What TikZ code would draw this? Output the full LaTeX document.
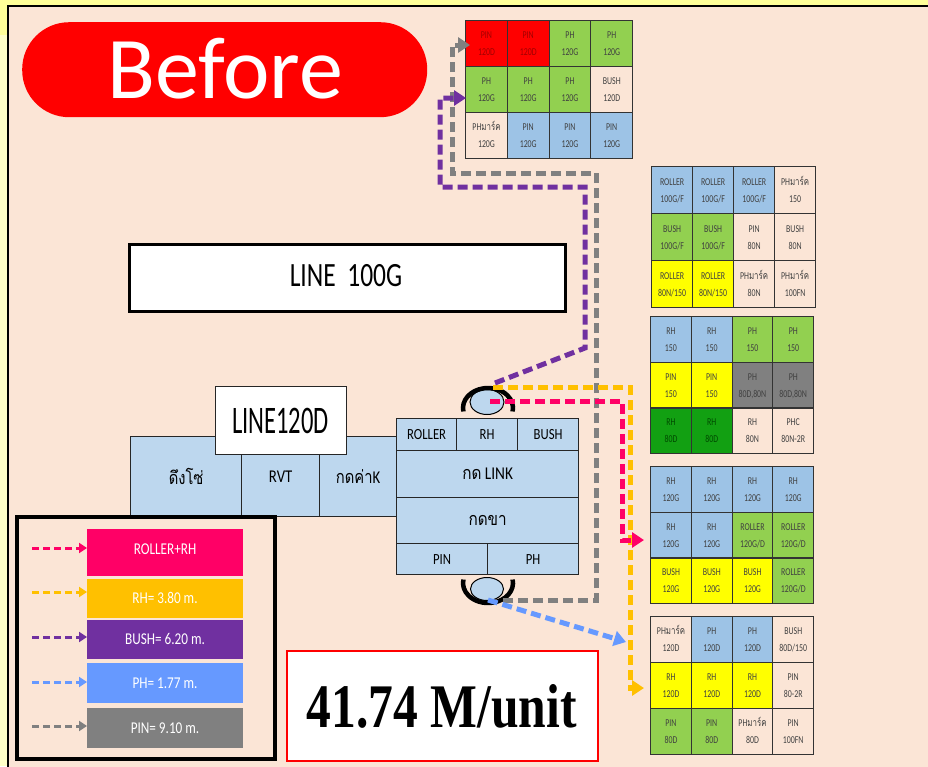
\documentclass[tikz,border=0pt]{standalone}
\usepackage{fontspec}
\usepackage{graphicx}
\setmainfont{Carlito}
\newfontfamily\thaifont[Script=Thai]{Loma}
\newfontfamily\timesb{Liberation Serif}
\usetikzlibrary{arrows.meta,shapes.geometric}
\definecolor{peach}{HTML}{FBE5D6}
\definecolor{bgyel}{HTML}{FFFF99}
\definecolor{bgyelb}{HTML}{FFFFC8}
\definecolor{cblue}{HTML}{9DC3E6}
\definecolor{cgreen}{HTML}{92D050}
\definecolor{cdgreen}{HTML}{12A012}
\definecolor{cgray}{HTML}{808080}
\definecolor{cyel}{HTML}{FFFF00}
\definecolor{cred}{HTML}{FF0000}
\definecolor{lblue}{HTML}{BDD7EE}
\definecolor{lpink}{HTML}{FF0066}
\definecolor{lorange}{HTML}{FFC000}
\definecolor{lpurple}{HTML}{7030A0}
\definecolor{larrblue}{HTML}{6699FF}
\definecolor{tdark}{HTML}{404040}
\definecolor{tred}{HTML}{A00000}
\definecolor{tdgreen}{HTML}{004A00}
\newcommand{\sx}[2]{\scalebox{#1}[1]{#2}}
\newcommand{\thx}[1]{{\thaifont #1}}
\newcommand{\gx}{0}\newcommand{\gy}{0}\newcommand{\gw}{40}\newcommand{\gh}{46}
\newcommand{\gcell}[7]{%
  \node[cellbox, fill=#4, minimum width=\gw pt, minimum height=\gh pt] (#1) at ({\gx+#2*\gw},{\gy+#3*\gh}) {};
  \node[celltext, text=#5] at (#1.center) {\sx{0.75}{\begin{tabular}{@{}c@{}}#6\\#7\end{tabular}}};}
\begin{document}
\begin{tikzpicture}[x=1pt,y=-1pt,
  cellbox/.style={draw=black!80, line width=1.2, inner sep=0, anchor=north west},
  celltext/.style={inner sep=0, font=\fontsize{10.5}{17}\selectfont},
  blk/.style={draw=black!85, line width=1.3, fill=lblue, inner sep=0, anchor=north west, font=\fontsize{15.5}{16}\selectfont},
  conn/.style={line width=5pt, dash pattern=on 10pt off 5pt, -{Triangle[length=12pt, width=15pt]}},
  leg/.style={line width=3pt, dash pattern=on 7pt off 4pt, -{Triangle[length=8pt, width=10pt]}},
  bar/.style={inner sep=0, anchor=north west, minimum width=156},
  bartext/.style={inner sep=0, text=white, font=\fontsize{16.5}{16.5}\selectfont}
]
\useasboundingbox (0,0) rectangle (928,766);
\fill[bgyel] (0,0) rectangle (928,766);
\fill[bgyelb] (0,35) rectangle (8,766);
\filldraw[fill=peach, draw=black, line width=2.5] (8,6) rectangle (960,800);

% Before pill
\node[fill=cred, rounded corners=47, minimum width=405, minimum height=95, anchor=north west, inner sep=0] (before) at (22,22) {};
\node[text=white, font=\fontsize{88}{88}\selectfont, inner sep=0] (beforetxt) at (225,69) {Before};

% Grid 1
\renewcommand{\gx}{465}\renewcommand{\gy}{20}\renewcommand{\gw}{41.75}\renewcommand{\gh}{46}
\gcell{ga1}{0}{0}{cred}{tred}{PIN}{120D}
\gcell{ga2}{1}{0}{cred}{tred}{PIN}{120D}
\gcell{ga3}{2}{0}{cgreen}{tdark}{PH}{120G}
\gcell{ga4}{3}{0}{cgreen}{tdark}{PH}{120G}
\gcell{ga5}{0}{1}{cgreen}{tdark}{PH}{120G}
\gcell{ga6}{1}{1}{cgreen}{tdark}{PH}{120G}
\gcell{ga7}{2}{1}{cgreen}{tdark}{PH}{120G}
\gcell{ga8}{3}{1}{peach}{tdark}{BUSH}{120D}
\gcell{ga9}{0}{2}{peach}{tdark}{PH\thx{มาร์ค}}{120G}
\gcell{ga10}{1}{2}{cblue}{tdark}{PIN}{120G}
\gcell{ga11}{2}{2}{cblue}{tdark}{PIN}{120G}
\gcell{ga12}{3}{2}{cblue}{tdark}{PIN}{120G}

% Grid 2
\renewcommand{\gx}{651}\renewcommand{\gy}{166}\renewcommand{\gw}{41}\renewcommand{\gh}{47}
\gcell{gb1}{0}{0}{cblue}{tdark}{ROLLER}{100G/F}
\gcell{gb2}{1}{0}{cblue}{tdark}{ROLLER}{100G/F}
\gcell{gb3}{2}{0}{cblue}{tdark}{ROLLER}{100G/F}
\gcell{gb4}{3}{0}{peach}{tdark}{PH\thx{มาร์ค}}{150}
\gcell{gb5}{0}{1}{cgreen}{tdark}{BUSH}{100G/F}
\gcell{gb6}{1}{1}{cgreen}{tdark}{BUSH}{100G/F}
\gcell{gb7}{2}{1}{peach}{tdark}{PIN}{80N}
\gcell{gb8}{3}{1}{peach}{tdark}{BUSH}{80N}
\gcell{gb9}{0}{2}{cyel}{tdark}{ROLLER}{80N/150}
\gcell{gb10}{1}{2}{cyel}{tdark}{ROLLER}{80N/150}
\gcell{gb11}{2}{2}{peach}{tdark}{PH\thx{มาร์ค}}{80N}
\gcell{gb12}{3}{2}{peach}{tdark}{PH\thx{มาร์ค}}{100FN}

% Grid 3
\renewcommand{\gx}{650}\renewcommand{\gy}{316}\renewcommand{\gw}{40.75}\renewcommand{\gh}{45.7}
\gcell{gc1}{0}{0}{cblue}{tdark}{RH}{150}
\gcell{gc2}{1}{0}{cblue}{tdark}{RH}{150}
\gcell{gc3}{2}{0}{cgreen}{tdark}{PH}{150}
\gcell{gc4}{3}{0}{cgreen}{tdark}{PH}{150}
\gcell{gc5}{0}{1}{cyel}{tdark}{PIN}{150}
\gcell{gc6}{1}{1}{cyel}{tdark}{PIN}{150}
\gcell{gc7}{2}{1}{cgray}{tdark}{PH}{80D,80N}
\gcell{gc8}{3}{1}{cgray}{tdark}{PH}{80D,80N}
\gcell{gc9}{0}{2}{cdgreen}{tdgreen}{RH}{80D}
\gcell{gc10}{1}{2}{cdgreen}{tdgreen}{RH}{80D}
\gcell{gc11}{2}{2}{peach}{tdark}{RH}{80N}
\gcell{gc12}{3}{2}{peach}{tdark}{PHC}{80N-2R}

% Grid 4
\renewcommand{\gx}{650}\renewcommand{\gy}{466}\renewcommand{\gw}{40.75}\renewcommand{\gh}{45.7}
\gcell{gd1}{0}{0}{cblue}{tdark}{RH}{120G}
\gcell{gd2}{1}{0}{cblue}{tdark}{RH}{120G}
\gcell{gd3}{2}{0}{cblue}{tdark}{RH}{120G}
\gcell{gd4}{3}{0}{cblue}{tdark}{RH}{120G}
\gcell{gd5}{0}{1}{cblue}{tdark}{RH}{120G}
\gcell{gd6}{1}{1}{cblue}{tdark}{RH}{120G}
\gcell{gd7}{2}{1}{cgreen}{tdark}{ROLLER}{120G/D}
\gcell{gd8}{3}{1}{cgreen}{tdark}{ROLLER}{120G/D}
\gcell{gd9}{0}{2}{cyel}{tdark}{BUSH}{120G}
\gcell{gd10}{1}{2}{cyel}{tdark}{BUSH}{120G}
\gcell{gd11}{2}{2}{cyel}{tdark}{BUSH}{120G}
\gcell{gd12}{3}{2}{cgreen}{tdark}{ROLLER}{120G/D}

% Grid 5
\renewcommand{\gx}{650}\renewcommand{\gy}{616}\renewcommand{\gw}{40.75}\renewcommand{\gh}{46}
\gcell{ge1}{0}{0}{peach}{tdark}{PH\thx{มาร์ค}}{120D}
\gcell{ge2}{1}{0}{cblue}{tdark}{PH}{120D}
\gcell{ge3}{2}{0}{cblue}{tdark}{PH}{120D}
\gcell{ge4}{3}{0}{peach}{tdark}{BUSH}{80D/150}
\gcell{ge5}{0}{1}{cyel}{tdark}{RH}{120D}
\gcell{ge6}{1}{1}{cyel}{tdark}{RH}{120D}
\gcell{ge7}{2}{1}{cyel}{tdark}{RH}{120D}
\gcell{ge8}{3}{1}{peach}{tdark}{PIN}{80-2R}
\gcell{ge9}{0}{2}{cgreen}{tdark}{PIN}{80D}
\gcell{ge10}{1}{2}{cgreen}{tdark}{PIN}{80D}
\gcell{ge11}{2}{2}{peach}{tdark}{PH\thx{มาร์ค}}{80D}
\gcell{ge12}{3}{2}{peach}{tdark}{PIN}{100FN}

% LINE 100G
\node[draw=black, line width=3, fill=white, minimum width=436, minimum height=67, anchor=north west, inner sep=0] (l100) at (128,243) {};
\node[inner sep=0, font=\fontsize{34}{34}\selectfont] at (346,276) {\sx{0.75}{LINE\ \ 100G}};

% Left block row
\node[blk, minimum width=111, minimum height=80, font=\fontsize{18}{18}\selectfont] (dung) at (130,436) {\sx{0.82}{\thx{ดึงโซ่}}};
\node[blk, minimum width=78, minimum height=80, font=\fontsize{18}{18}\selectfont] (rvt) at (241,436) {\sx{0.82}{RVT}};
\node[blk, minimum width=77, minimum height=80, font=\fontsize{18}{18}\selectfont] (kdk) at (319,436) {\sx{0.82}{\thx{กดค่า}K}};
\node[draw=black!85, line width=1.3, fill=white, minimum width=131, minimum height=68, anchor=north west, inner sep=0] (l120) at (215,386) {};
\node[inner sep=0, font=\fontsize{39}{39}\selectfont] at (280.5,421) {\sx{0.63}{LINE120D}};

% Right block
\node[blk, minimum width=60, minimum height=32] (roller) at (396,418) {\sx{0.82}{ROLLER}};
\node[blk, minimum width=61, minimum height=32] (rh) at (456,418) {\sx{0.82}{RH}};
\node[blk, minimum width=61, minimum height=32] (bush) at (517,418) {\sx{0.82}{BUSH}};
\node[blk, minimum width=182, minimum height=47, font=\fontsize{18}{18}\selectfont] (link) at (396,450) {\sx{0.85}{\thx{กด} LINK}};
\node[blk, minimum width=182, minimum height=46, font=\fontsize{18}{18}\selectfont] (kdkha) at (396,497) {\sx{0.85}{\thx{กดขา}}};
\node[blk, minimum width=91, minimum height=31] (pin) at (396,543) {\sx{0.82}{PIN}};
\node[blk, minimum width=91, minimum height=31] (ph) at (487,543) {\sx{0.82}{PH}};

% wheels
\node[ellipse, draw=black, line width=1, fill=lblue, minimum width=34, minimum height=25, inner sep=0] (wt) at (487,402) {};
\draw[line width=4.5] (488,408) ++(170:25 and 20) arc[start angle=170, end angle=370, x radius=25, y radius=20];
\node[ellipse, draw=black, line width=1, fill=lblue, minimum width=33, minimum height=23, inner sep=0] (wb) at (487,589) {};
\draw[line width=4.5] (488,583) ++(-10:25 and 20) arc[start angle=-10, end angle=190, x radius=25, y radius=20];

% connector end points
\coordinate (gS) at (503,600);
\coordinate (gE) at (470,45);
\coordinate (yS) at (493,387);
\coordinate (yE) at (644,688);
\coordinate (pkS) at (490,401);
\coordinate (pkE) at (644,540);
\coordinate (puS) at (495,383);
\coordinate (puE) at (466,98);
\coordinate (bS) at (488,600);
\coordinate (bE) at (626,642);

\draw[conn, cgray] (gS) -- (596,600) -- (596,173) -- (452,173) -- (452,45) -- (gE);
\draw[conn, lorange] (yS) -- (630,387) -- (630,688) -- (yE);
\draw[conn, lpink] (pkS) -- (622,401) -- (622,540) -- (pkE);
\draw[conn, lpurple] (puS) -- (585,348) -- (585,187) -- (440,187) -- (440,98) -- (puE);
\draw[conn, larrblue] (bS) -- (bE);

% Legend
\node[draw=black, line width=4, minimum width=258, minimum height=242, anchor=north west, inner sep=0] (legend) at (15,515) {};
\node[bar, fill=lpink, minimum height=47] (bar1) at (87,529) {};
\node[bar, fill=lorange, minimum height=39] (bar2) at (87,579) {};
\node[bar, fill=lpurple, minimum height=39] (bar3) at (87,620) {};
\node[bar, fill=larrblue, minimum height=40] (bar4) at (87,663) {};
\node[bar, fill=cgray, minimum height=40] (bar5) at (87,708) {};
\node[bartext] at (165,549) {\sx{0.8}{ROLLER+RH}};
\node[bartext] at (165,598) {\sx{0.8}{RH= 3.80 m.}};
\node[bartext] at (165,639) {\sx{0.8}{BUSH= 6.20 m.}};
\node[bartext] at (165,683) {\sx{0.8}{PH= 1.77 m.}};
\node[bartext] at (165,728) {\sx{0.8}{PIN= 9.10 m.}};
\coordinate (la1) at (32,548);
\coordinate (la2) at (32,592);
\coordinate (la3) at (32,637);
\coordinate (la4) at (32,682);
\coordinate (la5) at (32,726);
\draw[leg, lpink] (la1) -- (la1 -| bar1.west);
\draw[leg, lorange] (la2) -- (la2 -| bar2.west);
\draw[leg, lpurple] (la3) -- (la3 -| bar3.west);
\draw[leg, larrblue] (la4) -- (la4 -| bar4.west);
\draw[leg, cgray] (la5) -- (la5 -| bar5.west);

% value box
\node[draw=cred, line width=2, fill=white, minimum width=311, minimum height=110, anchor=north west, inner sep=0] (val) at (286,650) {};
\node[inner sep=0, font=\timesb\bfseries\fontsize{62}{62}\selectfont] at (441.5,706) {\sx{0.8}{41.74 M/unit}};
\end{tikzpicture}
\end{document}
